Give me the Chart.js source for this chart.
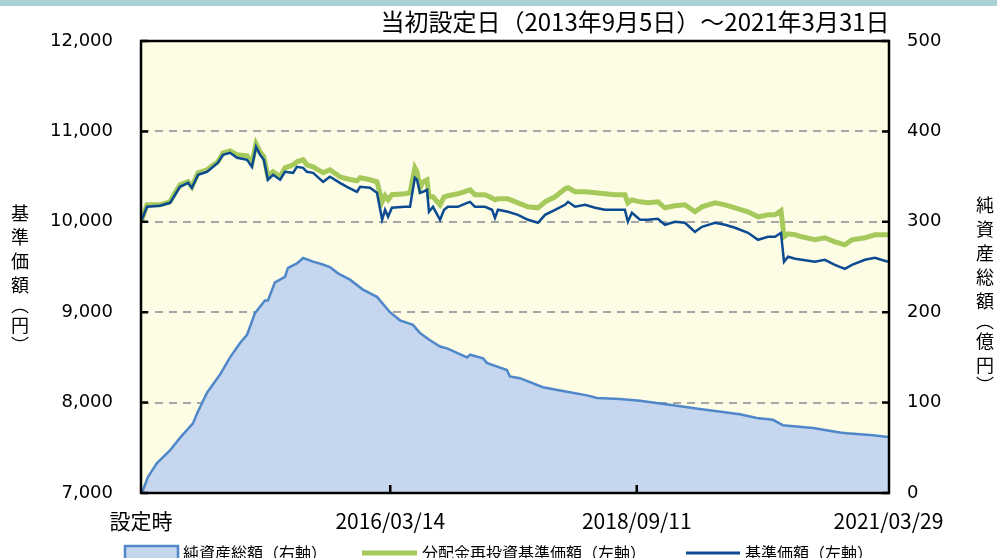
<!DOCTYPE html>
<html lang="ja">
<head>
<meta charset="utf-8">
<script src="https://cdn.jsdelivr.net/npm/chart.js@4.4.1/dist/chart.umd.min.js"></script>
<style>
  html, body { margin: 0; padding: 0; background: #fff; }
  #wrap { position: relative; width: 997px; height: 558px; overflow: hidden; }
  #topbar { position: absolute; left: 0; top: 0; width: 997px; height: 6px; background: #a9d0d5; }
  canvas { position: absolute; left: 0; top: 0; }
</style>
</head>
<body>
<div id="wrap">
  <canvas id="chart" width="997" height="558"></canvas>
  <div id="topbar"></div>
</div>
<script>
// 設定日(2013/09/05)からの経過日数
const priceDays = [
  0, 22, 70, 107, 126, 144, 174, 188, 211, 244,
  262, 284, 303, 329, 355, 392, 410, 425, 440, 454,
  469, 488, 514, 532, 562, 576, 599, 613, 636, 673,
  698, 735, 761, 798, 810, 846, 872, 891, 902, 913,
  927, 975, 994, 1012, 1020, 1031, 1042, 1057, 1064, 1079,
  1105, 1120, 1134, 1171, 1205, 1216, 1234, 1271, 1297, 1308,
  1319, 1356, 1393, 1430, 1467, 1493, 1530, 1567, 1578, 1604,
  1641, 1678, 1714, 1751, 1788, 1799, 1814, 1844, 1873, 1910,
  1936, 1973, 2010, 2047, 2073, 2121, 2158, 2195, 2243, 2280,
  2317, 2343, 2365, 2376, 2391, 2417, 2442, 2490, 2527, 2564,
  2601, 2627, 2675, 2712, 2760
];

// 基準価額（円）
const basePrice = [
  10000, 10166, 10177, 10210, 10299, 10387, 10431, 10376, 10520, 10553,
  10597, 10653, 10741, 10763, 10708, 10686, 10608, 10830, 10741, 10686,
  10465, 10520, 10465, 10553, 10542, 10608, 10597, 10553, 10542, 10442,
  10498, 10431, 10387, 10332, 10387, 10376, 10321, 10022, 10133, 10055,
  10155, 10166, 10166, 10487, 10465, 10321, 10332, 10354, 10111, 10166,
  10022, 10133, 10166, 10166, 10210, 10221, 10166, 10166, 10133, 10044,
  10133, 10111, 10077, 10022, 9989, 10077, 10133, 10188, 10221, 10166,
  10188, 10155, 10133, 10133, 10133, 10000, 10100, 10022, 10022, 10033,
  9967, 10000, 9989, 9889, 9945, 9989, 9967, 9934, 9878, 9801,
  9834, 9834, 9878, 9558, 9613, 9591, 9580, 9558, 9580, 9524,
  9480, 9524, 9580, 9602, 9558
];

// 分配金再投資基準価額（円）
const reinvestPrice = [
  10000, 10188, 10188, 10221, 10321, 10409, 10442, 10387, 10542, 10575,
  10619, 10664, 10763, 10785, 10741, 10730, 10653, 10863, 10774, 10719,
  10498, 10553, 10498, 10597, 10630, 10664, 10686, 10630, 10608, 10542,
  10575, 10498, 10476, 10453, 10487, 10465, 10442, 10221, 10288, 10243,
  10299, 10310, 10321, 10597, 10553, 10376, 10442, 10465, 10277, 10277,
  10188, 10277, 10288, 10310, 10343, 10354, 10299, 10299, 10265, 10243,
  10254, 10254, 10210, 10166, 10155, 10221, 10277, 10365, 10376, 10332,
  10332, 10321, 10310, 10299, 10299, 10210, 10243, 10221, 10210, 10221,
  10155, 10177, 10188, 10111, 10166, 10210, 10188, 10155, 10111, 10055,
  10077, 10077, 10122, 9834, 9867, 9856, 9834, 9801, 9823, 9779,
  9745, 9801, 9823, 9856, 9856
];

const navDays = [
  0, 7, 26, 59, 107, 144, 192, 207, 244, 292,
  329, 366, 392, 421, 458, 469, 495, 532, 543, 576,
  599, 636, 669, 698, 728, 772, 820, 872, 920, 957,
  1005, 1031, 1068, 1105, 1131, 1205, 1216, 1264, 1278, 1352,
  1363, 1400, 1485, 1574, 1648, 1685, 1770, 1844, 1966, 2065,
  2213, 2276, 2335, 2372, 2483, 2583, 2609, 2705, 2760
];

// 純資産総額（億円）
const netAssets = [
  0, 3, 18, 33, 47, 61, 77, 88, 111, 131,
  150, 166, 175, 199, 213, 213, 233, 239, 249, 254,
  260, 256, 253, 250, 243, 236, 225, 217, 200, 191,
  186, 177, 169, 162, 160, 150, 153, 149, 144, 136,
  129, 127, 117, 112, 108, 105, 104, 102, 97, 93,
  87, 83, 81, 75, 72, 67, 66, 64, 62
];

const xTickDays = [0, 921, 1832, 2762];
const xTickLabels = ['設定時', '2016/03/14', '2018/09/11', '2021/03/29'];
const lastDay = 2764;

const titleText = '当初設定日（2013年9月5日）～2021年3月31日';
const leftTitle = ['基', '準', '価', '額', '︵', '円', '︶'];
const rightTitle = ['純', '資', '産', '総', '額', '︵', '億', '円', '︶'];
const legendLabels = ['純資産総額（右軸）', '分配金再投資基準価額（左軸）', '基準価額（左軸）'];

const COL_AREA = '#c5d6ee';
const COL_AREA_LINE = '#4f87c9';
const COL_GREEN = '#a5c95a';
const COL_NAVY = '#0c4a91';
const JP_FONT = '"Noto Sans CJK JP", "Noto Sans", sans-serif';

const toPoints = (xs, ys) => xs.map((x, i) => ({ x: x, y: ys[i] }));

// 縦書きの軸タイトル（かっこは詰める）
function drawVertical(ctx, chars, x, startY) {
  let cur = startY;
  chars.forEach(c => {
    const h = (c === '︵' || c === '︶') ? 16 : 24;
    ctx.fillText(c, x, cur + h / 2);
    cur += h;
  });
}

const plotDeco = {
  id: 'plotDeco',
  beforeDraw(chart) {
    const { ctx, chartArea: a } = chart;
    ctx.save();
    ctx.fillStyle = '#fdfde6';
    ctx.fillRect(a.left, a.top, a.right - a.left, a.bottom - a.top);
    ctx.restore();
  },
  afterDatasetsDraw(chart) {
    const { ctx, chartArea: a, scales } = chart;
    ctx.save();
    ctx.strokeStyle = '#000';
    ctx.lineWidth = 2.5;
    ctx.strokeRect(a.left, a.top, a.right - a.left, a.bottom - a.top);
    // 内向きの目盛り
    ctx.beginPath();
    scales.y.ticks.forEach(t => {
      const y = scales.y.getPixelForValue(t.value);
      ctx.moveTo(a.left, y); ctx.lineTo(a.left + 7, y);
    });
    scales.y2.ticks.forEach(t => {
      const y = scales.y2.getPixelForValue(t.value);
      ctx.moveTo(a.right - 7, y); ctx.lineTo(a.right, y);
    });
    xTickDays.slice(1, -1).forEach(d => {
      const x = scales.x.getPixelForValue(d);
      ctx.moveTo(x, a.bottom); ctx.lineTo(x, a.bottom - 8);
    });
    ctx.stroke();
    ctx.restore();
  },
  afterDraw(chart) {
    const { ctx } = chart;
    ctx.save();
    ctx.fillStyle = '#000';
    ctx.textBaseline = 'middle';

    // タイトル
    ctx.font = '24px ' + JP_FONT;
    ctx.textAlign = 'center';
    ctx.fillText(titleText, 635, 22);

    // 軸タイトル
    ctx.font = '18px ' + JP_FONT;
    drawVertical(ctx, leftTitle, 20, 201);
    drawVertical(ctx, rightTitle, 985, 193);

    // 凡例
    const ly = 553;
    ctx.font = '16px ' + JP_FONT;
    ctx.textAlign = 'left';
    ctx.fillStyle = COL_AREA;
    ctx.fillRect(125, ly - 7, 53, 14);
    ctx.strokeStyle = COL_AREA_LINE;
    ctx.lineWidth = 2.5;
    ctx.strokeRect(125, ly - 7, 53, 14);
    ctx.fillStyle = '#000';
    ctx.fillText(legendLabels[0], 183, ly);

    ctx.strokeStyle = COL_GREEN;
    ctx.lineWidth = 5;
    ctx.beginPath(); ctx.moveTo(362, ly); ctx.lineTo(417, ly); ctx.stroke();
    ctx.fillText(legendLabels[1], 422, ly);

    ctx.strokeStyle = COL_NAVY;
    ctx.lineWidth = 3;
    ctx.beginPath(); ctx.moveTo(686, ly); ctx.lineTo(740, ly); ctx.stroke();
    ctx.fillText(legendLabels[2], 745, ly);
    ctx.restore();
  }
};

new Chart(document.getElementById('chart'), {
  type: 'line',
  data: {
    datasets: [
      {
        label: legendLabels[2],
        data: toPoints(priceDays, basePrice),
        yAxisID: 'y',
        borderColor: COL_NAVY,
        borderWidth: 2.5,
        pointRadius: 0,
        tension: 0,
        order: 1
      },
      {
        label: legendLabels[1],
        data: toPoints(priceDays, reinvestPrice),
        yAxisID: 'y',
        borderColor: COL_GREEN,
        borderWidth: 5,
        pointRadius: 0,
        tension: 0,
        order: 2
      },
      {
        label: legendLabels[0],
        data: toPoints(navDays, netAssets),
        yAxisID: 'y2',
        borderColor: COL_AREA_LINE,
        backgroundColor: COL_AREA,
        borderWidth: 2.5,
        pointRadius: 0,
        tension: 0,
        fill: 'origin',
        order: 3
      }
    ]
  },
  options: {
    responsive: false,
    animation: false,
    layout: { padding: { top: 41, left: 0, right: 0, bottom: 0 } },
    plugins: {
      legend: { display: false },
      tooltip: { enabled: false },
      title: { display: false }
    },
    scales: {
      x: {
        type: 'linear',
        min: 0,
        max: lastDay,
        grid: { display: false, drawTicks: false },
        border: { display: false },
        afterBuildTicks: s => { s.ticks = xTickDays.map(v => ({ value: v })); },
        afterFit: s => { s.height = 65; },
        ticks: {
          autoSkip: false,
          maxRotation: 0,
          padding: 15,
          color: '#000',
          font: { family: JP_FONT, size: 21 },
          callback: (v, i) => xTickLabels[i]
        }
      },
      y: {
        position: 'left',
        min: 7000,
        max: 12000,
        afterFit: s => { s.width = 141; },
        grid: {
          drawTicks: false,
          lineWidth: 2,
          color: c => (c.tick.value === 7000 || c.tick.value === 12000) ? 'transparent' : '#a6a6a6'
        },
        border: { display: false, dash: [8, 6] },
        ticks: {
          stepSize: 1000,
          padding: 28,
          color: '#000',
          font: { family: '"DejaVu Sans"', size: 18 },
          callback: v => v.toLocaleString('en-US')
        }
      },
      y2: {
        position: 'right',
        min: 0,
        max: 500,
        afterFit: s => { s.width = 108; },
        grid: { display: false, drawTicks: false },
        border: { display: false },
        ticks: {
          stepSize: 100,
          padding: 18,
          color: '#000',
          font: { family: '"DejaVu Sans"', size: 18 }
        }
      }
    }
  },
  plugins: [plotDeco]
});
</script>
</body>
</html>
